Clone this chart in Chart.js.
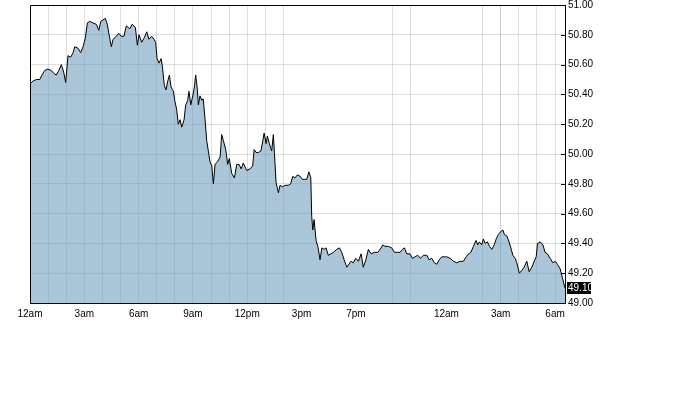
<!DOCTYPE html>
<html>
<head>
<meta charset="utf-8">
<script src="https://cdn.jsdelivr.net/npm/chart.js@4/dist/chart.umd.min.js"></script>
<style>
    html, body { margin: 0; padding: 0; background: #ffffff; }
    #wrap { width: 700px; height: 396px; }
</style>
</head>
<body>
<div id="wrap"><canvas id="price-chart" width="700" height="396"></canvas></div>
<script>
// Trading hours since midnight (the 5pm-6pm break is left out of the time line)
var hours = [
    0, 0.17, 0.35, 0.54, 0.66, 0.81, 0.99, 1.18, 1.33, 1.45, 1.59, 1.73, 1.86, 1.97, 2.10, 2.25, 2.38, 2.47, 2.65, 2.80,
    2.93, 3.06, 3.17, 3.30, 3.48, 3.66, 3.80, 3.91, 4.03, 4.16, 4.27, 4.40, 4.49, 4.59, 4.77, 4.90, 5.04, 5.19, 5.32, 5.51,
    5.64, 5.82, 5.93,
    6.02, 6.17, 6.31, 6.45, 6.57, 6.72, 6.85, 6.94, 7.02, 7.13, 7.24, 7.31, 7.42, 7.51, 7.61, 7.70, 7.79, 7.92, 8.01, 8.10,
    8.19, 8.29, 8.38, 8.51, 8.60, 8.71, 8.78, 8.88, 8.99, 9.08, 9.15, 9.23, 9.30, 9.39, 9.49, 9.57, 9.67, 9.76, 9.85, 9.94,
    10.04, 10.13, 10.22, 10.37, 10.50, 10.59, 10.68, 10.81, 10.92, 11.01, 11.14, 11.29, 11.42, 11.55, 11.66, 11.78,
    11.97, 12.15, 12.30, 12.38, 12.49, 12.61, 12.75, 12.86, 12.93, 13.04, 13.11, 13.22, 13.35, 13.44, 13.50, 13.59, 13.72, 13.81, 13.96, 14.09,
    14.27, 14.40, 14.51, 14.64, 14.77, 14.92, 15.04, 15.15, 15.29, 15.40, 15.51, 15.56, 15.62, 15.69, 15.80, 15.90, 16.02, 16.12, 16.24, 16.35,
    16.48, 16.61, 16.76, 16.94, 17.09, 17.22, 17.35, 17.50,
    17.73, 17.86, 17.99, 18.14, 18.29, 18.41, 18.55, 18.69, 18.84, 19.02, 19.21, 19.34, 19.49, 19.61, 19.80, 19.98, 20.13, 20.31, 20.44, 20.57,
    20.68, 20.81, 20.99, 21.12, 21.27, 21.42, 21.56, 21.73, 21.92, 22.04, 22.19, 22.34, 22.47, 22.60, 22.75, 22.89, 23.02, 23.20, 23.39, 23.57,
    23.76, 23.94, 24.09, 24.22, 24.35, 24.49, 24.64, 24.73, 24.82, 24.95, 25.04, 25.14, 25.27, 25.38, 25.51, 25.64, 25.75, 25.87, 26.01, 26.12,
    26.20, 26.34, 26.46, 26.56, 26.67, 26.80, 26.89, 27.03, 27.17, 27.29, 27.44, 27.57, 27.72, 27.85, 27.96, 28.03, 28.18, 28.33, 28.45, 28.58,
    28.73, 28.88, 29.01, 29.13, 29.28, 29.55
];

var prices = [
    50.47, 50.49, 50.50, 50.50, 50.53, 50.56, 50.57, 50.56, 50.54, 50.53, 50.56, 50.60, 50.55, 50.48, 50.66, 50.65, 50.68, 50.72, 50.71, 50.68,
    50.72, 50.78, 50.88, 50.89, 50.88, 50.87, 50.83, 50.89, 50.90, 50.91, 50.87, 50.78, 50.72, 50.77, 50.79, 50.81, 50.79, 50.79, 50.86, 50.84,
    50.87, 50.85, 50.73,
    50.80, 50.75, 50.78, 50.82, 50.77, 50.79, 50.77, 50.75, 50.64, 50.61, 50.64, 50.59, 50.46, 50.43, 50.49, 50.53, 50.45, 50.42, 50.35, 50.30,
    50.20, 50.23, 50.18, 50.23, 50.33, 50.36, 50.42, 50.33, 50.39, 50.45, 50.53, 50.45, 50.33, 50.39, 50.36, 50.37, 50.23, 50.09, 50.02, 49.95,
    49.92, 49.80, 49.93, 49.95, 49.98, 50.13, 50.09, 50.03, 49.93, 49.97, 49.87, 49.84, 49.93, 49.93, 49.90, 49.94,
    49.89, 49.90, 49.92, 50.03, 50.01, 50.01, 50.02, 50.09, 50.14, 50.07, 50.12, 50.07, 50.02, 50.13, 50.01, 49.81, 49.74, 49.79, 49.78, 49.79,
    49.79, 49.80, 49.85, 49.84, 49.86, 49.85, 49.83, 49.83, 49.83, 49.88, 49.84, 49.58, 49.49, 49.56, 49.42, 49.38, 49.29, 49.37, 49.36, 49.37,
    49.32, 49.33, 49.34, 49.36, 49.37, 49.34, 49.29, 49.24,
    49.28, 49.27, 49.30, 49.28, 49.33, 49.24, 49.29, 49.36, 49.33, 49.34, 49.34, 49.36, 49.39, 49.38, 49.38, 49.37, 49.34, 49.34, 49.34, 49.36,
    49.37, 49.33, 49.33, 49.30, 49.31, 49.32, 49.30, 49.32, 49.32, 49.29, 49.30, 49.27, 49.26, 49.29, 49.31, 49.31, 49.31, 49.30, 49.28, 49.27,
    49.28, 49.28, 49.31, 49.33, 49.34, 49.38, 49.42, 49.39, 49.41, 49.39, 49.43, 49.40, 49.41, 49.38, 49.36, 49.39, 49.43, 49.46, 49.48, 49.49,
    49.46, 49.45, 49.41, 49.37, 49.32, 49.30, 49.27, 49.20, 49.22, 49.24, 49.28, 49.21, 49.24, 49.28, 49.31, 49.40, 49.41, 49.39, 49.34, 49.33,
    49.30, 49.27, 49.28, 49.26, 49.23, 49.10
];

// X axis labels and the hours that get a vertical grid line
var tickHours = [0, 3, 6, 9, 12, 15, 18, 23, 26, 29];
var tickLabels = ['12am', '3am', '6am', '9am', '12pm', '3pm', '7pm', '12am', '3am', '6am'];
var gridHours = [1, 2, 3, 4, 5, 6, 7, 8, 9, 10, 11, 12, 13, 14, 20, 21, 25, 26, 27, 28, 29];

// Y axis range
var priceMin = 49.0;
var priceMax = 51.0;
var priceStep = 0.2;

(function() {
    'use strict';

    var points = hours.map(function(h, i) {
        return { x: h, y: prices[i] };
    });
    var lastPrice = prices[prices.length - 1];
    var tickFont = { family: "'Liberation Sans Narrow', 'Liberation Sans', sans-serif", size: 10 };

    // Black frame, inward ticks on the price axis and the last price box
    var framePlugin = {
        id: 'frame',
        afterDraw: function(chart) {
            var a = chart.chartArea;
            var ctx = chart.ctx;
            var yScale = chart.scales.y;

            ctx.save();
            ctx.strokeStyle = '#000000';
            ctx.lineWidth = 1;
            ctx.beginPath();
            ctx.rect(Math.round(a.left) + 0.5, Math.round(a.top) + 0.5,
                Math.round(a.right - a.left), Math.round(a.bottom - a.top));
            ctx.stroke();
            ctx.beginPath();
            yScale.ticks.forEach(function(t) {
                var py = Math.round(yScale.getPixelForValue(t.value)) + 0.5;
                ctx.moveTo(a.right - 4, py);
                ctx.lineTo(a.right, py);
            });
            ctx.stroke();

            var ly = Math.round(yScale.getPixelForValue(lastPrice));
            ctx.fillStyle = '#000000';
            ctx.fillRect(a.right + 2, ly - 6, 24, 12);
            ctx.fillStyle = '#ffffff';
            ctx.font = "10px 'Liberation Sans Narrow', 'Liberation Sans', sans-serif";
            ctx.textBaseline = 'middle';
            ctx.textAlign = 'left';
            ctx.fillText(lastPrice.toFixed(2), a.right + 3, ly + 0.5);
            ctx.restore();
        }
    };

    var chartConfig = {
        type: 'line',
        data: {
            datasets: [{
                data: points,
                borderColor: '#000000',
                // semi-transparent so the grid shows through the area, as in the original
                backgroundColor: 'rgba(100, 151, 184, 0.55)',
                borderWidth: 1,
                fill: 'start',
                tension: 0,
                pointRadius: 0
            }]
        },
        options: {
            responsive: false,
            animation: false,
            layout: {
                padding: { left: 30, top: 5, right: 0, bottom: 0 }
            },
            plugins: {
                legend: { display: false },
                tooltip: { enabled: false }
            },
            scales: {
                x: {
                    type: 'linear',
                    min: 0,
                    max: 29.55,
                    afterBuildTicks: function(scale) {
                        var t = [];
                        for (var h = 0; h <= 29; h++) {
                            t.push({ value: h });
                        }
                        scale.ticks = t;
                    },
                    afterFit: function(scale) {
                        scale.height = 93;
                        scale.paddingLeft = 0;
                        scale.paddingRight = 0;
                    },
                    grid: {
                        drawTicks: false,
                        color: function(c) {
                            if (!c.tick) {
                                return 'rgba(0,0,0,0)';
                            }
                            var v = c.tick.value;
                            if (gridHours.indexOf(v) === -1) {
                                return 'rgba(0,0,0,0)';
                            }
                            return v === 26 ? 'rgba(0,0,0,0.2)' : 'rgba(0,0,0,0.13)';
                        }
                    },
                    border: { display: true, color: '#000000' },
                    ticks: {
                        autoSkip: false,
                        maxRotation: 0,
                        padding: 5,
                        color: '#000000',
                        font: tickFont,
                        callback: function(value) {
                            var i = tickHours.indexOf(value);
                            return i === -1 ? '' : tickLabels[i];
                        }
                    }
                },
                y: {
                    position: 'right',
                    min: priceMin,
                    max: priceMax,
                    afterFit: function(scale) {
                        scale.width = 135;
                        scale.paddingTop = 0;
                        scale.paddingBottom = 0;
                    },
                    grid: {
                        drawTicks: false,
                        color: 'rgba(0,0,0,0.13)'
                    },
                    border: { display: true, color: '#000000' },
                    ticks: {
                        stepSize: priceStep,
                        padding: 3,
                        color: '#000000',
                        font: tickFont,
                        callback: function(value) {
                            return Number(value).toFixed(2);
                        }
                    }
                }
            }
        },
        plugins: [framePlugin]
    };

    try {
        new Chart(document.getElementById('price-chart').getContext('2d'), chartConfig);
    } catch (error) {
        console.error('Price chart failed:', error);
    }
})();
</script>
</body>
</html>
